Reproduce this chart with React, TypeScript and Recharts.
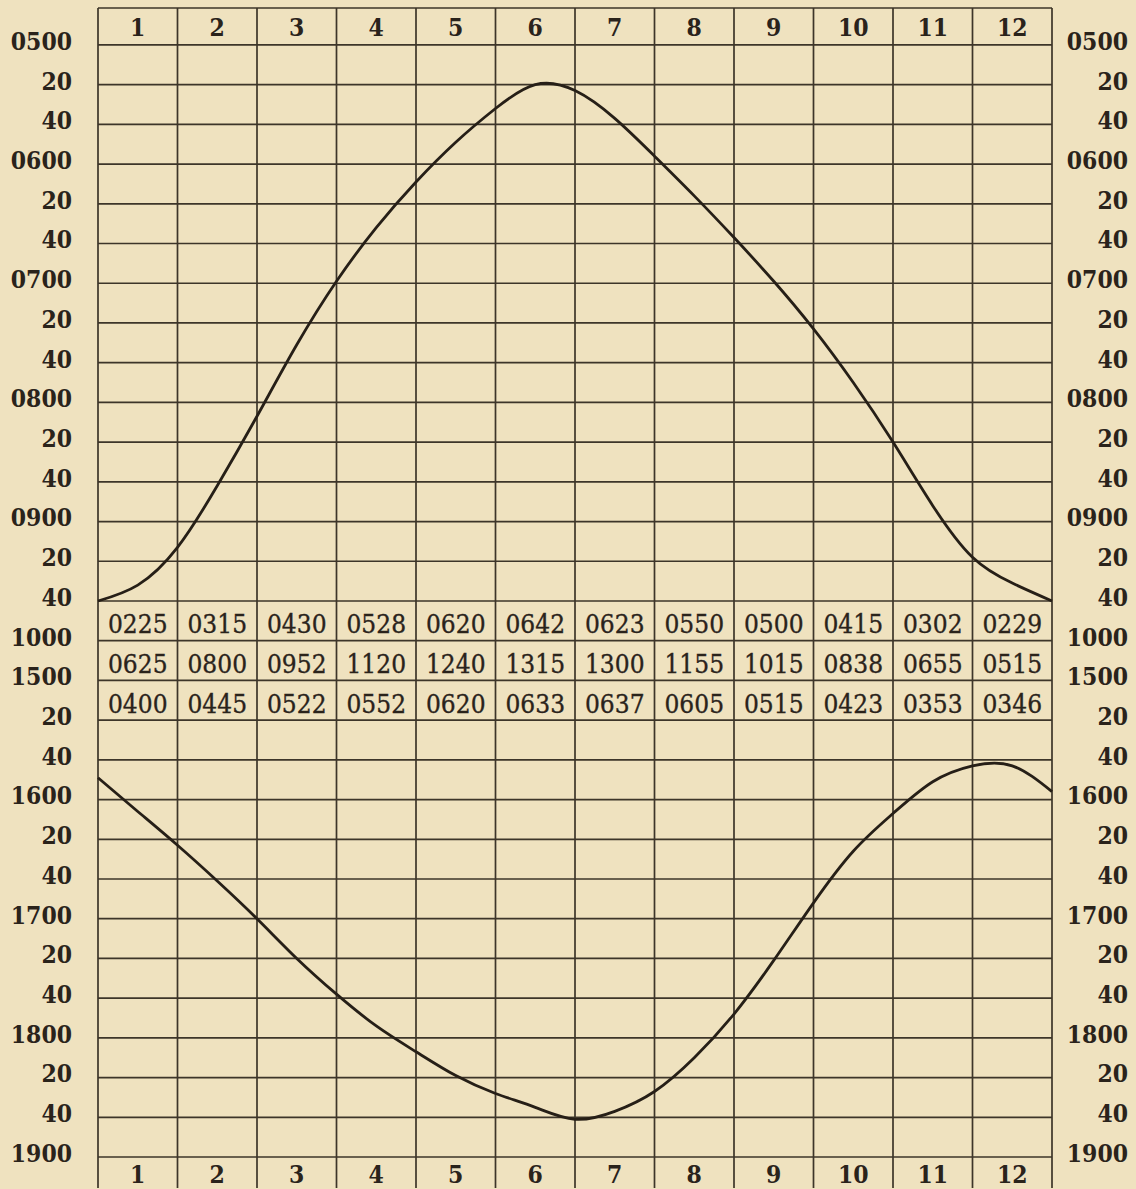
import React from "react";
import {
  ComposedChart,
  Line,
  Scatter,
  XAxis,
  YAxis,
  ReferenceLine,
} from "recharts";

// row labels down the side, one per 20-minute step (with the 1000 -> 1500 break)
const rowLabels = [
  "0500", "20", "40", "0600", "20", "40", "0700", "20", "40",
  "0800", "20", "40", "0900", "20", "40", "1000", "1500", "20", "40",
  "1600", "20", "40", "1700", "20", "40", "1800", "20", "40", "1900",
];
const monthLabels = ["1", "2", "3", "4", "5", "6", "7", "8", "9", "10", "11", "12"];

// table rows printed between 0940 and 1520
const tableRow1 = ["0225", "0315", "0430", "0528", "0620", "0642", "0623", "0550", "0500", "0415", "0302", "0229"];
const tableRow2 = ["0625", "0800", "0952", "1120", "1240", "1315", "1300", "1155", "1015", "0838", "0655", "0515"];
const tableRow3 = ["0400", "0445", "0522", "0552", "0620", "0633", "0637", "0605", "0515", "0423", "0353", "0346"];

// upper curve, read every half month
const morningMonths = [0, 0.5, 1, 1.5, 2, 2.5, 3, 3.5, 4, 4.5, 5, 5.5, 6, 6.5, 7, 7.5, 8, 8.5, 9, 9.5, 10, 10.5, 11, 11.5, 12];
const morningTimes = ["0940", "0932", "0913", "0842", "0807", "0731", "0659", "0632", "0609", "0549", "0532", "0520", "0523", "0537", "0556", "0616", "0637", "0659", "0723", "0750", "0820", "0852", "0918", "0931", "0940"];

// lower curve, read every half month
const eveningMonths = [0, 0.5, 1, 1.5, 2, 2.5, 3, 3.5, 4, 4.5, 5, 5.5, 6, 6.5, 7, 7.5, 8, 8.5, 9, 9.5, 10, 10.5, 11, 11.5, 12];
const eveningTimes = ["1549", "1606", "1623", "1641", "1700", "1720", "1738", "1754", "1807", "1819", "1828", "1835", "1841", "1837", "1827", "1810", "1748", "1721", "1652", "1626", "1607", "1551", "1543", "1543", "1556"];

const gridMonths = [0, 1, 2, 3, 4, 5, 6, 7, 8, 9, 10, 11, 12];

const BG = "#efe2bf";
const INK = "#2a231b";
const GRID = "#3d3529";
const FONT = "'DejaVu Serif', serif";

// time string -> row on the broken scale
function toRow(t: string) {
  const mins = parseInt(t.slice(0, 2), 10) * 60 + parseInt(t.slice(2), 10);
  if (mins <= 600) return (mins - 300) / 20;
  return 16 + (mins - 900) / 20;
}

const morningData = morningMonths.map((m, i) => ({ m, r: toRow(morningTimes[i]) }));
const eveningData = eveningMonths.map((m, i) => ({ m, r: toRow(eveningTimes[i]) }));
const tableData = [tableRow1, tableRow2, tableRow3].flatMap((row, ri) =>
  row.map((text, ci) => ({ m: ci + 0.5, r: 14.5 + ri, text }))
);
const headerData = monthLabels.map((text, i) => ({ m: i + 0.5, r: -0.47, text }));
const rowTicks = rowLabels.map((_, i) => i);
const monthTicks = monthLabels.map((_, i) => i + 0.5);
const gridRows = [-0.93, ...rowTicks];

const Label = ({ x, y, anchor, size, weight, children }: any) => (
  <g transform={`translate(${x},${y}) scale(0.88,1)`}>
    <text x={0} y={0} dy="0.355em" textAnchor={anchor} fontFamily={FONT} fontWeight={weight}
      fontSize={size} fill={INK}>
      {children}
    </text>
  </g>
);

const LeftTick = ({ x, y, payload }: any) => (
  <Label x={x} y={y - 4} anchor="end" size={25} weight="bold">{rowLabels[payload.value]}</Label>
);
const RightTick = ({ x, y, payload }: any) => (
  <Label x={x + 76} y={y - 4} anchor="end" size={25} weight="bold">{rowLabels[payload.value]}</Label>
);
const BottomTick = ({ x, y, payload }: any) => (
  <Label x={x} y={y - 14} anchor="middle" size={25} weight="bold">{monthLabels[Math.floor(payload.value)]}</Label>
);
const HeaderText = ({ cx, cy, payload }: any) => (
  <Label x={cx} y={cy + 1} anchor="middle" size={25} weight="bold">{payload.text}</Label>
);

const CellText = ({ cx, cy, payload }: any) => (
  <g transform={`translate(${cx},${cy + 3}) scale(0.9,1)`}>
    <text x={0} y={0} dy="0.355em" textAnchor="middle" fontFamily={FONT} fontSize={26} fill={INK}
      stroke={INK} strokeWidth={0.35}>
      {payload.text}
    </text>
  </g>
);

export default function App() {
  return (
    <div style={{ width: 1136, height: 1189, background: BG, overflow: "hidden" }}>
      <style>{`body{margin:0;background:${BG};}`}</style>
      <ComposedChart width={1136} height={1189} margin={{ top: 8, right: 0, bottom: 0, left: 0 }}>
        <XAxis xAxisId="bottom" type="number" dataKey="m" domain={[0, 12]} ticks={monthTicks} interval={0}
          height={1} axisLine={false} tickLine={false} tickSize={0} tickMargin={0} tick={<BottomTick />} />
        <YAxis yAxisId="left" type="number" dataKey="r" domain={[-0.93, 28.78]} reversed allowDataOverflow
          ticks={rowTicks} interval={0} width={98} axisLine={false} tickLine={false} tickSize={0} tickMargin={26}
          tick={<LeftTick />} />
        <YAxis yAxisId="right" orientation="right" type="number" dataKey="r" domain={[-0.93, 28.78]} reversed allowDataOverflow
          ticks={rowTicks} interval={0} width={84} axisLine={false} tickLine={false} tickSize={0} tickMargin={0}
          tick={<RightTick />} />

        {gridRows.map((r) => (
          <ReferenceLine key={`h${r}`} xAxisId="bottom" yAxisId="left" y={r} stroke={GRID} strokeWidth={1.7} />
        ))}
        {gridMonths.map((m) => (
          <ReferenceLine key={`v${m}`} xAxisId="bottom" yAxisId="left" x={m} stroke={GRID} strokeWidth={1.7} />
        ))}

        <Line xAxisId="bottom" yAxisId="left" data={morningData} dataKey="r" type="natural" stroke="#261f17"
          strokeWidth={2.8} dot={false} isAnimationActive={false} />
        <Line xAxisId="bottom" yAxisId="left" data={eveningData} dataKey="r" type="natural" stroke="#261f17"
          strokeWidth={2.8} dot={false} isAnimationActive={false} />
        <Scatter xAxisId="bottom" yAxisId="left" data={tableData} dataKey="r" shape={<CellText />} isAnimationActive={false} />
        <Scatter xAxisId="bottom" yAxisId="left" data={headerData} dataKey="r" shape={<HeaderText />} isAnimationActive={false} />
      </ComposedChart>
    </div>
  );
}
